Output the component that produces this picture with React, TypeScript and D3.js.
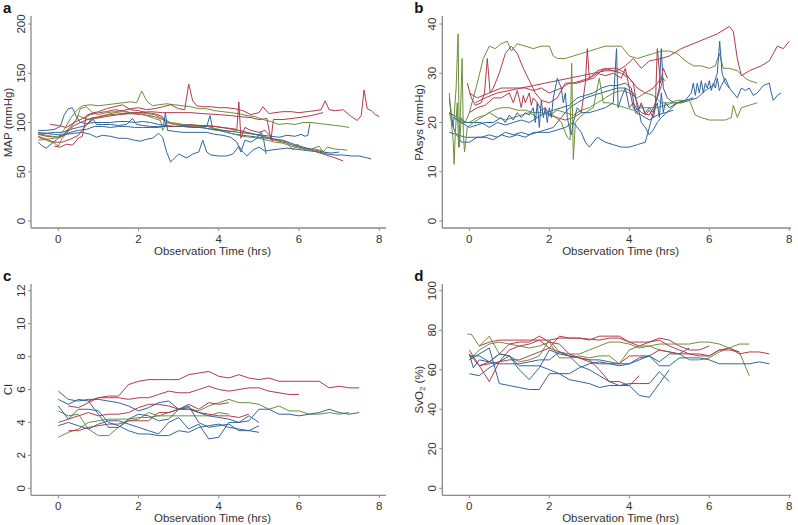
import * as d3 from "d3";

type Pt = [number, number];

// ---- a: MAP (mmHg) ----
const mapRed1: Pt[] = [[-0.2,98],[0,97],[0.2,95],[0.4,100],[0.6,104],[0.8,108],[1.0,110],[1.2,111],[1.4,113],[1.6,112],[1.8,114],[2.0,115],[2.2,113],[2.4,114],[2.6,116],[2.8,118],[3.0,114],[3.15,113],[3.25,139],[3.35,122],[3.45,117],[3.6,116],[3.8,116],[4.0,115],[4.2,115],[4.4,114],[4.6,112],[4.8,108],[5.0,110],[5.1,116],[5.25,109],[5.4,110],[5.6,111],[5.8,111],[6.0,110],[6.2,111],[6.4,112],[6.55,113],[6.65,122],[6.75,113],[6.9,112],[7.1,113],[7.3,106],[7.45,102],[7.55,107],[7.62,133],[7.7,114],[7.8,112],[7.9,108],[8.0,106]];
const mapRed2: Pt[] = [[-0.5,88],[-0.3,86],[0,85],[0.2,90],[0.4,97],[0.6,101],[0.8,104],[1.0,106],[1.3,108],[1.6,109],[2.0,110],[2.3,111],[2.6,110],[3.0,110],[3.3,110],[3.6,109],[4.0,108],[4.3,107],[4.5,106],[4.8,105],[5.0,103],[5.2,104],[5.3,82],[5.36,103],[5.6,103],[6.0,105],[6.3,107],[6.6,110]];
const mapRed3: Pt[] = [[-0.5,86],[-0.3,83],[-0.1,80],[0.1,80],[0.3,83],[0.5,87],[0.7,98],[0.9,104],[1.2,106],[1.5,108],[1.8,109],[2.1,108],[2.4,106],[2.6,103],[2.8,99],[3.0,98],[3.3,97],[3.6,97],[3.9,96],[4.2,94],[4.5,92],[4.8,89],[5.1,86],[5.4,82],[5.7,79],[6.0,75],[6.3,72],[6.6,68],[6.9,64],[7.1,61]];
const mapRed4: Pt[] = [[-0.1,76],[0.05,75],[0.2,78],[0.35,77],[0.5,84],[0.6,86],[0.7,107],[0.8,109],[1.0,111],[1.2,114],[1.4,116],[1.6,118],[1.8,113],[2.0,112],[2.2,110],[2.4,109],[2.6,106],[2.7,96],[2.9,96],[3.1,97],[3.3,98],[3.5,97],[3.7,97],[3.9,96],[4.1,95],[4.3,94],[4.45,93],[4.5,121],[4.55,84],[4.65,95],[4.8,92],[5.0,90],[5.15,92],[5.3,86],[5.35,81]];
const mapGreen1: Pt[] = [[-0.5,89],[-0.3,87],[0,85],[0.15,93],[0.3,104],[0.45,112],[0.6,117],[0.8,118],[1.0,117],[1.2,118],[1.4,119],[1.6,120],[1.8,121],[1.95,120],[2.08,132],[2.2,122],[2.35,117],[2.5,118],[2.7,119],[2.9,118],[3.1,117],[3.3,116],[3.5,114],[3.7,114],[3.9,112],[4.1,111],[4.3,110],[4.5,109],[4.7,107],[4.9,106],[5.1,103],[5.3,101],[5.5,98],[5.7,99],[5.9,98],[6.1,100],[6.3,100],[6.5,99],[6.7,98],[6.9,97],[7.1,96],[7.25,95]];
const mapGreen2: Pt[] = [[-0.5,82],[-0.3,83],[-0.1,84],[0.1,86],[0.3,96],[0.45,103],[0.55,114],[0.7,116],[0.85,110],[1.0,108],[1.2,110],[1.4,111],[1.6,112],[1.8,110],[2.0,109],[2.2,107],[2.4,104],[2.55,102],[2.6,92],[2.7,100],[2.9,98],[3.1,98],[3.3,97],[3.5,96],[3.7,96],[3.9,94],[4.1,92],[4.3,91],[4.5,92],[4.7,90],[4.9,88],[5.1,86],[5.3,84],[5.5,82],[5.7,80],[5.85,72],[5.95,78],[6.1,74],[6.3,73],[6.5,76],[6.6,70],[6.7,75],[6.9,73],[7.2,72]];
const mapGreen3: Pt[] = [[-0.5,85],[-0.3,82],[-0.1,79],[0.0,76],[0.1,84],[0.25,91],[0.4,100],[0.5,107],[0.65,104],[0.8,103],[1.0,105],[1.2,108],[1.4,110],[1.6,111],[1.8,110],[2.0,110],[2.2,109],[2.4,108],[2.6,104],[2.8,100],[3.0,99],[3.2,97],[3.4,96],[3.6,95],[3.8,93],[4.0,92],[4.2,90],[4.4,88],[4.6,86],[4.8,85],[5.0,84],[5.2,82],[5.4,80],[5.6,79],[5.8,76],[6.0,74],[6.2,72],[6.4,73],[6.6,71]];
const mapBlue1: Pt[] = [[-0.5,92],[-0.3,92],[-0.1,93],[0.05,96],[0.15,108],[0.25,114],[0.35,115],[0.45,106],[0.55,100],[0.7,99],[0.9,100],[1.1,100],[1.3,100],[1.5,101],[1.7,101],[1.9,100],[2.1,101],[2.3,100],[2.5,98],[2.7,97],[2.9,96],[3.1,96],[3.3,95],[3.5,95],[3.7,94],[3.9,93],[4.1,92],[4.3,91],[4.5,90],[4.7,89],[4.9,88],[5.1,87],[5.3,86],[5.5,85],[5.7,87],[5.9,86],[6.05,88],[6.15,86],[6.22,87],[6.27,99]];
const mapBlue2: Pt[] = [[-0.5,80],[-0.4,76],[-0.3,74],[-0.15,79],[0.0,84],[0.2,88],[0.4,89],[0.6,90],[0.8,88],[0.95,85],[1.1,87],[1.3,86],[1.5,84],[1.7,84],[1.9,82],[2.05,81],[2.2,83],[2.35,84],[2.5,89],[2.6,85],[2.7,70],[2.8,60],[2.9,64],[3.0,68],[3.1,66],[3.2,64],[3.35,68],[3.5,70],[3.6,82],[3.7,70],[3.8,67],[4.0,66],[4.2,66],[4.35,68],[4.5,76],[4.6,70],[4.7,66],[4.85,72],[5.0,75],[5.15,71],[5.3,72],[5.5,73],[5.7,74],[5.9,73],[6.1,72],[6.3,71],[6.5,70],[6.7,68],[6.9,67],[7.1,67],[7.3,66],[7.5,66],[7.7,64],[7.8,63]];
const mapBlue3: Pt[] = [[-0.5,90],[-0.3,89],[-0.1,88],[0.1,87],[0.3,90],[0.5,92],[0.7,93],[0.9,96],[1.1,96],[1.3,95],[1.5,96],[1.7,96],[1.9,95],[2.1,95],[2.3,95],[2.5,95],[2.62,96],[2.67,110],[2.72,92],[2.9,91],[3.1,90],[3.3,90],[3.5,90],[3.7,90],[3.9,88],[4.1,87],[4.3,85],[4.45,80],[4.55,70],[4.65,82],[4.8,80],[4.95,84],[5.05,90],[5.12,82],[5.18,68]];
const mapBlue4: Pt[] = [[-0.5,88],[-0.3,89],[-0.1,90],[0.1,90],[0.3,93],[0.5,95],[0.7,97],[0.85,105],[0.95,98],[1.1,98],[1.3,98],[1.5,97],[1.7,98],[1.85,104],[1.95,98],[2.1,97],[2.3,96],[2.5,96],[2.7,96],[2.9,96],[3.1,96],[3.3,96],[3.5,95],[3.7,96],[3.78,107],[3.85,93],[4.0,92],[4.2,90],[4.4,88],[4.6,87],[4.8,86],[5.0,85],[5.2,84],[5.4,83],[5.6,82],[5.8,79],[6.0,76],[6.2,74],[6.4,72],[6.6,70],[6.8,69],[7.0,70]];

// ---- b: PAsys (mmHg) ----
const pasRed1: Pt[] = [[0.15,24],[0.4,25],[0.7,26],[1.0,26.5],[1.3,27],[1.6,27.5],[1.9,28],[2.2,28.5],[2.5,29],[2.8,29.5],[3.1,30],[3.4,30.5],[3.7,30.5],[3.9,31.5],[4.1,33],[4.3,31],[4.5,32.5],[4.8,33],[5.0,33.5],[5.3,35],[5.6,36],[5.9,37],[6.2,38],[6.5,39.5],[6.6,38.5],[6.7,33],[6.8,29.5],[7.0,30.5],[7.3,31.5],[7.5,32.5],[7.7,35.5],[7.85,35],[8.0,36.5]];
const pasRed2: Pt[] = [[-0.05,28],[0.05,25],[0.15,23.5],[0.3,24],[0.38,26],[0.45,33],[0.52,26],[0.6,27],[0.75,30],[0.9,34],[1.05,35.5],[1.2,34],[1.35,31],[1.5,28.5],[1.65,26],[1.8,24.5],[2.0,24],[2.2,25],[2.4,28],[2.6,28],[2.8,28.5],[3.0,29],[3.2,30.5],[3.4,31],[3.6,30.5],[3.8,30],[4.0,29],[4.2,27],[4.4,26],[4.6,27],[4.8,29],[4.9,28.5]];
const pasRed3: Pt[] = [[0.0,22],[0.2,23],[0.4,23.5],[0.6,25],[0.8,25],[1.0,26],[1.1,24],[1.2,26.5],[1.3,23],[1.35,25.5],[1.4,24],[1.5,26],[1.55,23.5],[1.6,25],[1.7,24],[1.8,22.5],[1.9,23],[2.0,21.5],[2.2,21],[2.4,20.5],[2.6,21],[2.8,22],[2.9,28],[2.95,35],[3.0,29],[3.2,30],[3.4,29.5],[3.6,30],[3.8,29],[3.9,31],[4.0,27],[4.1,23],[4.2,22],[4.3,24],[4.4,21.5],[4.5,22.5],[4.6,21],[4.65,23],[4.7,35],[4.78,28],[4.85,31],[4.95,29]];
const pasRed4: Pt[] = [[0.0,26],[0.2,25],[0.5,26],[0.8,27],[1.1,27],[1.4,27],[1.6,26.5],[1.8,27],[2.0,26],[2.3,27],[2.5,28],[2.7,28],[2.9,28.5],[3.1,29],[3.3,30.5],[3.5,31],[3.7,31],[3.9,30],[4.1,28],[4.2,23],[4.3,22],[4.5,21.5],[4.6,23],[4.7,25],[4.8,27.5],[4.85,29]];
const pasGreen1: Pt[] = [[-0.5,22],[-0.4,19],[-0.33,27],[-0.28,38],[-0.25,15],[-0.2,21],[-0.1,20],[0.0,22],[0.1,25],[0.2,28],[0.35,33],[0.5,35.5],[0.65,35],[0.8,36],[0.95,36.5],[1.05,34.5],[1.2,36],[1.4,35.5],[1.6,35],[1.8,35.5],[2.0,35.5],[2.1,33.5],[2.2,33],[2.4,33],[2.6,33.5],[2.8,34],[3.0,34.5],[3.2,35],[3.4,35.5],[3.6,35.5],[3.8,35.5],[4.0,33.5],[4.2,33],[4.4,33.5],[4.6,34],[4.8,34.5],[5.0,34.5],[5.2,34],[5.4,32.5],[5.6,31.5],[5.8,31.5],[6.0,31],[6.15,31.5],[6.25,34],[6.35,31],[6.5,31],[6.7,30.5],[6.9,29],[7.0,28.5],[7.2,28]];
const pasGreen2: Pt[] = [[-0.5,26],[-0.45,20],[-0.4,16],[-0.38,11.5],[-0.35,18],[-0.3,24],[-0.27,15],[-0.22,22],[-0.18,33],[-0.15,18],[-0.12,14],[-0.05,19],[0.1,20],[0.3,21],[0.5,22],[0.7,21],[0.9,20.5],[1.1,21],[1.3,21.5],[1.5,22],[1.7,21],[1.9,22],[2.1,21.5],[2.3,20],[2.45,17],[2.52,16.5],[2.56,32],[2.6,12.5],[2.65,20],[2.75,21],[2.9,22],[3.1,23],[3.25,29],[3.35,24],[3.5,24],[3.7,23.5],[3.9,23],[4.1,22.5],[4.3,23],[4.5,23],[4.7,23],[4.9,23.5],[5.1,24],[5.3,24],[5.5,24.5],[5.65,21.5],[5.8,21],[6.0,20.5],[6.2,20.5],[6.4,20.5],[6.55,21],[6.6,23.5],[6.7,21],[6.8,23],[7.0,23.5],[7.2,24]];
const pasGreen3: Pt[] = [[-0.4,21],[-0.2,20],[0.0,20],[0.2,21],[0.4,21.5],[0.6,22.5],[0.8,23],[1.0,23],[1.2,22.5],[1.4,22.5],[1.6,22],[1.8,22],[2.0,21.5],[2.2,22.5],[2.4,22],[2.6,21.5],[2.8,22.5],[3.0,23],[3.2,24],[3.4,25],[3.6,26],[3.8,26.5],[4.0,26],[4.2,25],[4.4,26],[4.6,25.5],[4.8,24],[5.0,24],[5.2,24.5],[5.4,24.5]];
const pasBlue1: Pt[] = [[-0.5,18],[-0.3,17.5],[-0.1,17],[0.1,17],[0.3,17],[0.5,17.5],[0.7,17],[0.9,18],[1.1,17.5],[1.3,18],[1.5,17.5],[1.7,18],[1.9,18.5],[2.1,19],[2.3,21],[2.5,23],[2.7,24],[2.9,25],[3.1,25.5],[3.3,26],[3.5,26.5],[3.7,27],[3.9,27],[4.1,26],[4.2,24],[4.3,20],[4.4,19],[4.5,17.5],[4.6,18.5],[4.7,20],[4.8,21],[5.0,22.5],[5.2,24],[5.4,24.5],[5.55,26],[5.6,28],[5.65,25.5],[5.7,28],[5.75,26],[5.8,28.5],[5.85,26],[5.9,28],[5.95,27],[6.0,28.5],[6.05,26.5],[6.1,28],[6.15,27],[6.2,29],[6.25,26.5],[6.3,27.5],[6.4,29],[6.5,27],[6.6,26],[6.7,25],[6.8,27],[6.9,26.5],[7.0,27],[7.1,25.5],[7.2,26],[7.35,27.5],[7.5,28],[7.55,26],[7.6,24.5],[7.7,25.5],[7.8,26]];
const pasBlue2: Pt[] = [[-0.5,25],[-0.45,22],[-0.4,19],[-0.35,18],[-0.2,16],[0.0,16],[0.2,17],[0.4,17],[0.6,16.5],[0.8,17.5],[1.0,17],[1.2,17.5],[1.4,17],[1.6,18],[1.8,18],[2.0,18],[2.2,18.5],[2.4,19],[2.6,20],[2.8,18],[2.9,16],[3.0,15],[3.2,17],[3.4,16],[3.6,15.5],[3.8,15],[4.0,15],[4.2,15.5],[4.4,16],[4.6,22],[4.75,27],[4.8,35],[4.85,27],[4.95,25],[5.1,24],[5.3,24],[5.5,24.5],[5.7,25],[5.9,26.5],[6.1,27.5],[6.2,30],[6.26,36.5],[6.32,30],[6.4,28],[6.5,27]];
const pasBlue3: Pt[] = [[-0.4,21],[-0.2,20],[0.0,19],[0.2,19.5],[0.4,20],[0.6,20],[0.8,21],[0.9,20],[1.0,21.5],[1.1,20.5],[1.2,22],[1.3,21],[1.4,22],[1.5,21.5],[1.6,23],[1.65,20],[1.7,24],[1.75,19],[1.8,24.5],[1.85,21],[1.9,23],[1.95,20],[2.0,23],[2.05,21],[2.1,25],[2.2,29],[2.3,27],[2.35,24],[2.4,26],[2.45,21],[2.5,19],[2.55,17.5],[2.6,20],[2.7,23],[2.8,22],[3.0,22],[3.2,22.5],[3.4,23],[3.6,24],[3.68,35],[3.72,23],[3.8,25],[3.9,27],[4.0,23],[4.1,24],[4.2,22.5],[4.3,23.5],[4.4,22],[4.5,23],[4.6,22],[4.7,24],[4.75,21],[4.8,26],[4.85,22],[4.9,24],[5.0,23],[5.2,24],[5.4,24.5],[5.6,25]];
const pasBlue4: Pt[] = [[-0.5,22],[-0.3,21],[-0.1,20],[0.1,20],[0.3,20],[0.5,19],[0.7,20],[0.9,19.5],[1.1,20],[1.3,20.5],[1.5,20],[1.7,21],[1.9,22],[2.1,22.5],[2.3,23],[2.5,23.5],[2.7,25],[2.9,25.5],[3.1,26],[3.3,27],[3.5,27.5],[3.7,27.5],[3.9,28],[4.05,27],[4.15,22],[4.3,21.5],[4.5,20.5],[4.7,21.5],[4.9,22],[5.1,22.5]];

// ---- c: CI ----
const ciRed1: Pt[] = [[0.25,5.0],[0.5,4.9],[0.75,5.2],[1.0,5.5],[1.25,5.6],[1.5,5.6],[1.75,6.3],[2.0,6.5],[2.25,6.6],[2.5,6.6],[2.75,6.6],[3.0,6.6],[3.25,6.9],[3.5,7.0],[3.75,7.1],[4.0,6.8],[4.25,6.7],[4.5,6.9],[4.75,6.7],[5.0,6.6],[5.25,6.7],[5.5,6.5],[5.75,6.5],[6.0,6.5],[6.25,6.5],[6.5,6.5],[6.75,6.1],[7.0,6.2],[7.25,6.1],[7.5,6.1]];
const ciRed2: Pt[] = [[0.75,5.3],[1.0,5.5],[1.25,5.5],[1.5,5.5],[1.75,5.4],[2.0,5.5],[2.25,5.5],[2.5,5.7],[2.75,5.9],[3.0,5.8],[3.25,5.8],[3.5,6.0],[3.75,6.2],[4.0,6.0],[4.25,5.9],[4.5,6.0],[4.75,6.1],[5.0,6.1],[5.25,5.9],[5.5,5.8],[5.75,5.7],[6.0,5.7]];
const ciRed3: Pt[] = [[0.0,4.0],[0.25,4.2],[0.5,4.4],[0.75,4.6],[1.0,4.4],[1.25,4.5],[1.5,4.5],[1.75,4.6],[2.0,4.9],[2.25,5.1],[2.5,5.1],[2.75,5.0],[3.0,4.8],[3.25,5.1],[3.5,4.8],[3.75,5.2],[4.0,5.1],[4.25,5.2]];
const ciRed4: Pt[] = [[0.25,3.5],[0.5,3.5],[0.75,3.7],[1.0,3.8],[1.25,3.9],[1.5,3.9],[1.75,4.1],[2.0,4.1],[2.25,4.1],[2.5,4.6],[2.75,4.6],[3.0,4.8],[3.25,4.8],[3.5,4.6],[3.75,4.5],[4.0,4.4],[4.25,4.4],[4.5,4.3],[4.75,4.5]];
const ciGreen1: Pt[] = [[0.0,4.7],[0.25,4.4],[0.5,4.5],[0.75,3.6],[1.0,3.2],[1.25,3.2],[1.5,3.7],[1.75,4.1],[2.0,4.2],[2.25,4.6],[2.5,4.4],[2.75,4.6],[3.0,4.8],[3.25,4.8],[3.5,4.7],[3.75,5.0],[4.0,5.2],[4.25,5.4],[4.5,5.2],[4.75,5.2],[5.0,5.1],[5.25,4.8],[5.5,5.0],[5.75,4.7],[6.0,4.7],[6.25,4.5],[6.5,4.5],[6.75,4.6],[7.0,4.5],[7.25,4.6]];
const ciGreen2: Pt[] = [[0.0,3.1],[0.25,3.4],[0.5,3.6],[0.75,4.0],[1.0,4.1],[1.25,4.2],[1.5,4.2],[1.75,4.2],[2.0,4.3],[2.25,4.3],[2.5,4.4],[2.75,4.4],[3.0,4.4],[3.25,4.4],[3.5,4.4],[3.75,4.4],[4.0,4.6],[4.25,4.5]];
const ciBlue1: Pt[] = [[0.0,5.9],[0.25,5.4],[0.5,5.3],[0.75,5.4],[1.0,5.4],[1.25,5.3],[1.5,5.2],[1.75,5.0],[2.0,4.7],[2.25,4.9],[2.5,5.2],[2.75,5.3],[3.0,4.8],[3.25,4.9],[3.5,4.6],[3.75,4.4],[4.0,4.3],[4.25,4.2],[4.5,4.0],[4.75,4.1],[5.0,4.8],[5.25,4.8],[5.5,4.5],[5.75,4.5],[6.0,4.4],[6.25,4.5],[6.5,4.6],[6.75,4.8],[7.0,4.6],[7.25,4.5],[7.5,4.6]];
const ciBlue2: Pt[] = [[0.0,5.4],[0.25,5.1],[0.5,5.4],[0.75,5.3],[1.0,4.5],[1.25,3.7],[1.5,3.7],[1.75,4.2],[2.0,4.5],[2.25,4.4],[2.5,4.1],[2.75,4.2],[3.0,4.8],[3.25,5.0],[3.5,4.0],[3.75,3.7],[4.0,3.8],[4.25,3.9],[4.5,3.5],[4.75,3.5],[5.0,3.8]];
const ciBlue3: Pt[] = [[0.0,5.0],[0.25,4.2],[0.5,4.8],[0.75,4.8],[1.0,4.7],[1.25,4.0],[1.5,3.8],[1.75,3.5],[2.0,3.3],[2.25,3.3],[2.5,3.2],[2.75,3.2],[3.0,3.5],[3.25,3.4],[3.5,3.7],[3.75,3.8],[4.0,3.9],[4.25,3.7],[4.5,3.6],[4.75,3.5],[5.0,3.4]];
const ciBlue4: Pt[] = [[0.0,3.8],[0.25,4.0],[0.5,3.8],[0.75,3.6],[1.0,3.9],[1.25,4.1],[1.5,4.1],[1.75,3.9],[2.0,3.7],[2.25,3.5],[2.5,3.3],[2.75,4.0],[3.0,4.3],[3.25,3.6],[3.5,3.9],[3.75,3.0],[4.0,3.1],[4.25,4.0],[4.5,4.0],[4.75,4.4],[5.0,4.0]];

// ---- d: SvO2 (%) ----
const svoRed1: Pt[] = [[0.0,70],[0.25,62],[0.5,54],[0.75,64],[1.0,70],[1.25,72],[1.5,73],[1.75,75],[2.0,71],[2.25,69],[2.5,67],[2.75,66],[3.0,65],[3.25,60],[3.5,54],[3.75,54],[4.0,52],[4.25,57]];
const svoRed2: Pt[] = [[0.25,72],[0.5,74],[0.75,75],[1.0,75],[1.25,75],[1.5,75],[1.75,75],[2.0,75],[2.25,76],[2.5,76],[2.75,76],[3.0,75.5],[3.25,75],[3.5,76],[3.75,76],[4.0,74],[4.25,74],[4.5,74],[4.75,76],[5.0,75],[5.25,72],[5.5,70],[5.75,70],[6.0,72]];
const svoRed3: Pt[] = [[0.25,62],[0.5,63],[0.75,64],[1.0,65],[1.25,65],[1.5,67],[1.75,69],[2.0,71],[2.25,77],[2.5,76],[2.75,76],[3.0,75],[3.25,77],[3.5,77],[3.75,77],[4.0,74],[4.25,72],[4.5,74],[4.75,75],[5.0,72],[5.25,70],[5.5,68],[5.75,68],[6.0,67],[6.25,70],[6.5,71],[6.75,68],[7.0,69],[7.25,69],[7.5,68]];
const svoRed4: Pt[] = [[0.0,68],[0.25,62],[0.5,64],[0.75,68],[1.0,73],[1.25,74],[1.5,74],[1.75,77],[2.0,74],[2.25,73],[2.5,68],[2.75,66],[3.0,64],[3.25,63],[3.5,63],[3.75,63],[4.0,67],[4.25,67],[4.5,67],[4.75,70],[5.0,69],[5.25,68],[5.5,68],[5.75,67],[6.0,67],[6.25,70],[6.5,70],[6.75,69]];
const svoGreen1: Pt[] = [[-0.05,78],[0.05,78],[0.25,72],[0.5,77],[0.75,68],[1.0,67],[1.25,64],[1.5,65],[1.75,67],[2.0,75],[2.25,69],[2.5,68],[2.75,68],[3.0,70],[3.25,72],[3.5,74],[3.75,74],[4.0,73],[4.25,71],[4.5,72],[4.75,73],[5.0,73],[5.25,73],[5.5,73],[5.75,74],[6.0,74],[6.25,73],[6.5,71],[6.75,69],[7.0,57]];
const svoGreen2: Pt[] = [[0.0,65],[0.25,70],[0.5,73],[0.75,74],[1.0,73],[1.25,72],[1.5,71],[1.75,72],[2.0,74],[2.25,66],[2.5,66],[2.75,67],[3.0,66],[3.25,67],[3.5,67],[3.75,63],[4.0,70],[4.25,72],[4.5,72],[4.75,70],[5.0,69],[5.25,68],[5.5,65],[5.75,65],[6.0,66],[6.25,69],[6.5,71],[6.75,73],[7.0,73]];
const svoBlue1: Pt[] = [[0.0,65],[0.25,68],[0.5,71],[0.75,53],[1.0,52],[1.25,51],[1.5,50],[1.75,50],[2.0,58],[2.25,58],[2.5,58],[2.75,61],[3.0,63],[3.25,64],[3.5,63],[3.75,62],[4.0,63],[4.25,65],[4.5,67],[4.75,62],[5.0,62],[5.25,66],[5.5,66],[5.75,66],[6.0,65],[6.25,63],[6.5,63],[6.75,63],[7.0,63],[7.25,64],[7.5,63]];
const svoBlue2: Pt[] = [[0.0,58],[0.25,57],[0.5,61],[0.75,64],[1.0,67],[1.25,60],[1.5,55],[1.75,61],[2.0,70],[2.25,68],[2.5,67],[2.75,62],[3.0,60],[3.25,57],[3.5,54],[3.75,52],[4.0,53],[4.25,53],[4.5,53],[4.75,59],[5.0,54]];
const svoBlue3: Pt[] = [[0.0,68],[0.1,61],[0.25,65],[0.5,64],[0.75,68],[1.0,67],[1.25,62],[1.5,62],[1.75,62],[2.0,60],[2.25,58],[2.5,55],[2.75,54],[3.0,53],[3.25,51],[3.5,52],[3.75,52],[4.0,52],[4.25,47],[4.5,46],[4.75,53],[5.0,60]];
const svoBlue4: Pt[] = [[0.0,67],[0.25,67],[0.5,64],[0.75,63],[1.0,63],[1.25,63],[1.5,64],[1.75,65],[2.0,65],[2.25,69],[2.5,67],[2.75,66],[3.0,65],[3.25,65],[3.5,64],[3.75,63],[4.0,63],[4.25,66],[4.5,67],[4.75,64],[5.0,68],[5.25,68],[5.5,71]];

const xTicks = [0, 2, 4, 6, 8];
const mapTicks = [0, 50, 100, 150, 200];
const pasTicks = [0, 10, 20, 30, 40];
const ciTicks = [0, 2, 4, 6, 8, 10, 12];
const svoTicks = [0, 20, 40, 60, 80, 100];

const RED = "#b33a4c";
const GREEN = "#6d8e3a";
const BLUE = "#30659a";
const AXIS = "#8a8a8a";
const FONT = "'Liberation Sans', Arial, Helvetica, sans-serif";

type Line = { color: string; data: Pt[] };

const mapLines: Line[] = [
  { color: BLUE, data: mapBlue2 }, { color: RED, data: mapRed3 }, { color: GREEN, data: mapGreen2 },
  { color: BLUE, data: mapBlue4 }, { color: GREEN, data: mapGreen3 }, { color: RED, data: mapRed2 },
  { color: BLUE, data: mapBlue1 }, { color: GREEN, data: mapGreen1 }, { color: RED, data: mapRed4 },
  { color: BLUE, data: mapBlue3 }, { color: RED, data: mapRed1 },
];
const pasLines: Line[] = [
  { color: RED, data: pasRed1 }, { color: GREEN, data: pasGreen1 }, { color: RED, data: pasRed2 },
  { color: GREEN, data: pasGreen3 }, { color: BLUE, data: pasBlue1 }, { color: RED, data: pasRed4 },
  { color: BLUE, data: pasBlue2 }, { color: RED, data: pasRed3 }, { color: BLUE, data: pasBlue4 },
  { color: GREEN, data: pasGreen2 }, { color: BLUE, data: pasBlue3 },
];
const ciLines: Line[] = [
  { color: RED, data: ciRed1 }, { color: RED, data: ciRed2 }, { color: GREEN, data: ciGreen1 },
  { color: RED, data: ciRed3 }, { color: GREEN, data: ciGreen2 }, { color: RED, data: ciRed4 },
  { color: BLUE, data: ciBlue1 }, { color: BLUE, data: ciBlue2 }, { color: BLUE, data: ciBlue3 },
  { color: BLUE, data: ciBlue4 },
];
const svoLines: Line[] = [
  { color: RED, data: svoRed2 }, { color: GREEN, data: svoGreen1 }, { color: RED, data: svoRed3 },
  { color: GREEN, data: svoGreen2 }, { color: RED, data: svoRed4 }, { color: BLUE, data: svoBlue4 },
  { color: BLUE, data: svoBlue1 }, { color: RED, data: svoRed1 }, { color: BLUE, data: svoBlue2 },
  { color: BLUE, data: svoBlue3 },
];

type Frame = {
  left: number; right: number; top: number; bottom: number;
  x0: number; x8: number; yLo: number; yHi: number;
};

function Panel({ letter, yLabel, yTicks, lines, f }: {
  letter: string; yLabel: React.ReactNode; yTicks: number[]; lines: Line[]; f: Frame;
}) {
  const x = d3.scaleLinear().domain([0, 8]).range([f.x0, f.x8]);
  const y = d3.scaleLinear().domain([0, yTicks[yTicks.length - 1]]).range([f.yLo, f.yHi]);
  const line = d3.line<Pt>().x((d) => x(d[0])).y((d) => y(d[1]));
  const midY = (f.yLo + f.yHi) / 2;
  const midX = (f.left + f.right) / 2 + 4;

  return (
    <g fontFamily={FONT}>
      <text x={f.left - 28} y={f.top - 3} fontSize={15} fontWeight="bold" fill="#111">{letter}</text>
      <g fill="none" strokeWidth={1} strokeLinejoin="round">
        {lines.map((l, i) => (
          <path key={i} d={line(l.data) ?? ""} stroke={l.color} />
        ))}
      </g>
      <line x1={f.left} x2={f.left} y1={f.top} y2={f.bottom} stroke={AXIS} strokeWidth={1.3} />
      <line x1={f.left} x2={f.right} y1={f.bottom} y2={f.bottom} stroke={AXIS} strokeWidth={1.3} />
      {yTicks.map((t) => (
        <g key={t}>
          <line x1={f.left - 3} x2={f.left} y1={y(t)} y2={y(t)} stroke={AXIS} strokeWidth={1} />
          <text transform={`translate(${f.left - 6},${y(t)}) rotate(-90)`} textAnchor="middle"
            fontSize={11.5} fill="#333">{t}</text>
        </g>
      ))}
      {xTicks.map((t) => (
        <g key={t}>
          <line x1={x(t)} x2={x(t)} y1={f.bottom} y2={f.bottom + 3} stroke={AXIS} strokeWidth={1} />
          <text x={x(t)} y={f.bottom + 15} textAnchor="middle" fontSize={11.5} fill="#333">{t}</text>
        </g>
      ))}
      <text x={midX} y={f.bottom + 26.5} textAnchor="middle" fontSize={11.5} fill="#333">
        Observation Time (hrs)
      </text>
      <text transform={`translate(${f.left - 19},${midY}) rotate(-90)`} textAnchor="middle"
        fontSize={11.5} fill="#333">{yLabel}</text>
    </g>
  );
}

const frameA: Frame = { left: 31, right: 386, top: 16, bottom: 228, x0: 58.3, x8: 379.3, yLo: 221, yHi: 24 };
const frameB: Frame = { left: 442.3, right: 791, top: 16, bottom: 228, x0: 469.3, x8: 789.3, yLo: 221, yHi: 24 };
const frameC: Frame = { left: 31, right: 386, top: 284, bottom: 495.3, x0: 58.3, x8: 379.3, yLo: 488.3, yHi: 290.7 };
const frameD: Frame = { left: 442.3, right: 791, top: 284, bottom: 495.3, x0: 469.3, x8: 789.3, yLo: 488.3, yHi: 290.7 };

export default function App() {
  return (
    <svg width={798} height={525} viewBox="0 0 798 525"
      style={{ position: "absolute", left: 0, top: 0, background: "#fff", display: "block" }}>
      <rect width={798} height={525} fill="#fff" />
      <Panel letter="a" yLabel="MAP (mmHg)" yTicks={mapTicks} lines={mapLines} f={frameA} />
      <Panel letter="b" yLabel="PAsys (mmHg)" yTicks={pasTicks} lines={pasLines} f={frameB} />
      <Panel letter="c" yLabel="CI" yTicks={ciTicks} lines={ciLines} f={frameC} />
      <Panel letter="d" yLabel={<>SvO<tspan fontSize={8} dy={2}>2</tspan><tspan dy={-2}> (%)</tspan></>}
        yTicks={svoTicks} lines={svoLines} f={frameD} />
    </svg>
  );
}
